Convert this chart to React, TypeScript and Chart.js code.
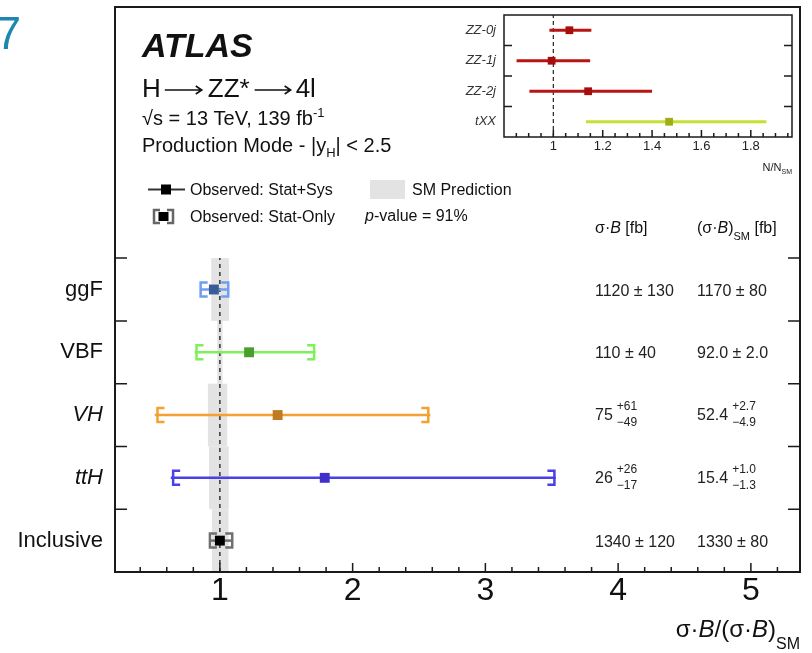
import React, { useEffect, useRef } from 'react';
import { Chart, registerables } from 'chart.js';
Chart.register(...registerables);

const FONT = '"Liberation Sans", Arimo, Arial, Helvetica, sans-serif';

// ---------------- main panel data ----------------
const categories = ['ggF', 'VBF', 'VH', 'ttH', 'Inclusive'];
const italicCategory = [false, false, true, true, false];
const observed = [0.955, 1.22, 1.435, 1.79, 1.0];
const totalLow = [0.85, 0.81, 0.51, 0.63, 0.925];
const totalHigh = [1.065, 1.72, 2.585, 3.53, 1.093];
const statLow = [0.855, 0.824, 0.53, 0.648, 0.925];
const statHigh = [1.063, 1.71, 2.57, 3.52, 1.093];
const smLow = [0.935, 0.98, 0.91, 0.918, 0.94];
const smHigh = [1.068, 1.02, 1.055, 1.067, 1.065];
const markerColors = ['#3b5b98', '#4a9e2e', '#c07a22', '#3f30cc', '#000000'];
const errorColors = ['#6f9ff0', '#7ef05a', '#f2a132', '#4b3fe6', '#707070'];
const xsCentral = ['1120 ± 130', '110 ± 40', '75', '26', '1340 ± 120'];
const xsUp = ['', '', '+61', '+26', ''];
const xsDown = ['', '', '−49', '−17', ''];
const smCentral = ['1170 ± 80', '92.0 ± 2.0', '52.4', '15.4', '1330 ± 80'];
const smUp = ['', '', '+2.7', '+1.0', ''];
const smDown = ['', '', '−4.9', '−1.3', ''];
const xTickValues = [1, 2, 3, 4, 5];

// ---------------- inset data ----------------
const insetCategories = ['ZZ-0j', 'ZZ-1j', 'ZZ-2j', 'tXX'];
const insetValues = [1.065, 0.993, 1.141, 1.469];
const insetLow = [0.984, 0.851, 0.903, 1.132];
const insetHigh = [1.154, 1.149, 1.4, 1.863];
const insetLineColors = ['#b81414', '#b81414', '#b81414', '#c4e034'];
const insetMarkerColors = ['#a60e0e', '#a60e0e', '#a60e0e', '#9fae16'];
const insetTickValues = [1, 1.2, 1.4, 1.6, 1.8];

type Part = { t: string; size: number; dy?: number; dx?: number; italic?: boolean; bold?: boolean; arrow?: number };

function fontOf(p: Part) {
  return `${p.italic ? 'italic ' : ''}${p.bold ? 'bold ' : ''}${p.size}px ${FONT}`;
}
function partWidth(ctx: CanvasRenderingContext2D, p: Part) {
  if (p.arrow) return p.arrow;
  ctx.font = fontOf(p);
  return ctx.measureText(p.t).width;
}
function richWidth(ctx: CanvasRenderingContext2D, parts: Part[]) {
  let w = 0;
  for (const p of parts) w += partWidth(ctx, p) + (p.dx || 0);
  return w;
}
function drawRich(ctx: CanvasRenderingContext2D, x: number, y: number, parts: Part[], align = 'left', color = '#111') {
  ctx.save();
  ctx.fillStyle = color;
  ctx.strokeStyle = color;
  ctx.textAlign = 'left';
  ctx.textBaseline = 'alphabetic';
  let cx = align === 'right' ? x - richWidth(ctx, parts) : x;
  for (const p of parts) {
    cx += p.dx || 0;
    if (p.arrow) {
      const ay = y - p.size * 0.27;
      ctx.lineWidth = 1.6;
      ctx.beginPath();
      ctx.moveTo(cx, ay);
      ctx.lineTo(cx + p.arrow, ay);
      ctx.moveTo(cx + p.arrow - 6, ay - 4);
      ctx.lineTo(cx + p.arrow, ay);
      ctx.lineTo(cx + p.arrow - 6, ay + 4);
      ctx.stroke();
    } else {
      ctx.font = fontOf(p);
      ctx.fillText(p.t, cx, y + (p.dy || 0));
    }
    cx += partWidth(ctx, p);
  }
  ctx.restore();
}

const rowValue = (i: number) => categories.length - 1 - i;
const insetRow = (i: number) => insetCategories.length - 1 - i;

function bracket(ctx: CanvasRenderingContext2D, px: number, py: number, h: number, c: number) {
  ctx.beginPath();
  ctx.moveTo(px + c, py - h / 2);
  ctx.lineTo(px, py - h / 2);
  ctx.lineTo(px, py + h / 2);
  ctx.lineTo(px + c, py + h / 2);
  ctx.stroke();
}

const mainPlugin = {
  id: 'atlasMain',
  beforeDatasetsDraw(chart: any) {
    const { ctx, chartArea: a } = chart;
    const x = chart.scales.x;
    const y = chart.scales.y;
    ctx.save();
    ctx.beginPath();
    ctx.rect(a.left, a.top, a.right - a.left, a.bottom - a.top);
    ctx.clip();
    ctx.fillStyle = '#e3e3e3';
    categories.forEach((_, i) => {
      const yv = rowValue(i);
      const x0 = x.getPixelForValue(smLow[i]);
      const x1 = x.getPixelForValue(smHigh[i]);
      const y0 = y.getPixelForValue(yv + 0.5);
      const y1 = y.getPixelForValue(yv - 0.5);
      ctx.fillRect(x0, y0, x1 - x0, y1 - y0);
    });
    const px1 = x.getPixelForValue(1);
    ctx.setLineDash([4, 4]);
    ctx.strokeStyle = '#333';
    ctx.lineWidth = 1.5;
    ctx.beginPath();
    ctx.moveTo(px1, y.getPixelForValue(-0.5));
    ctx.lineTo(px1, y.getPixelForValue(categories.length - 0.5));
    ctx.stroke();
    ctx.setLineDash([]);
    categories.forEach((_, i) => {
      const py = y.getPixelForValue(rowValue(i));
      ctx.strokeStyle = errorColors[i];
      ctx.lineWidth = 2.5;
      ctx.beginPath();
      ctx.moveTo(x.getPixelForValue(totalLow[i]), py);
      ctx.lineTo(x.getPixelForValue(totalHigh[i]), py);
      ctx.stroke();
      bracket(ctx, x.getPixelForValue(statLow[i]), py, 14, 7);
      bracket(ctx, x.getPixelForValue(statHigh[i]), py, 14, -7);
    });
    ctx.restore();
  },
  afterDraw(chart: any) {
    const { ctx, chartArea: a } = chart;
    const x = chart.scales.x;
    const y = chart.scales.y;
    ctx.save();
    // frame
    ctx.strokeStyle = '#1a1a1a';
    ctx.lineWidth = 2;
    ctx.strokeRect(a.left, a.top, a.right - a.left, a.bottom - a.top);
    // x ticks
    ctx.lineWidth = 1.5;
    ctx.beginPath();
    for (let k = 2; k <= 26; k++) {
      const v = k * 0.2;
      if (v < x.min || v > x.max) continue;
      const px = x.getPixelForValue(v);
      const major = Math.abs(v - Math.round(v)) < 1e-6;
      ctx.moveTo(px, a.bottom);
      ctx.lineTo(px, a.bottom - (major ? 9 : 5));
    }
    // y ticks
    for (let i = 0; i < categories.length; i++) {
      const py = y.getPixelForValue(i + 0.5);
      ctx.moveTo(a.left, py);
      ctx.lineTo(a.left + 12, py);
      ctx.moveTo(a.right, py);
      ctx.lineTo(a.right - 12, py);
    }
    ctx.stroke();

    // figure number
    ctx.fillStyle = '#1f86b0';
    ctx.font = `46px ${FONT}`;
    ctx.textAlign = 'right';
    ctx.fillText('7', 21, 49);

    const L = a.left + 27;
    drawRich(ctx, L, 57, [{ t: 'ATLAS', size: 34, bold: true, italic: true }]);
    drawRich(ctx, L, 97, [
      { t: 'H', size: 26 },
      { t: '', size: 26, arrow: 37, dx: 4 },
      { t: 'ZZ*', size: 26, dx: 6 },
      { t: '', size: 26, arrow: 36, dx: 5 },
      { t: '4l', size: 26, dx: 5 },
    ]);
    drawRich(ctx, L, 125, [
      { t: '√s = 13 TeV, 139 fb', size: 20 },
      { t: '-1', size: 13, dy: -8 },
    ]);
    drawRich(ctx, L, 152, [
      { t: 'Production Mode - |y', size: 20 },
      { t: 'H', size: 13, dy: 5 },
      { t: '| < 2.5', size: 20 },
    ]);

    // legend
    ctx.strokeStyle = '#333';
    ctx.lineWidth = 2;
    ctx.beginPath();
    ctx.moveTo(148, 189.5);
    ctx.lineTo(185, 189.5);
    ctx.stroke();
    ctx.fillStyle = '#000';
    ctx.fillRect(161, 184.5, 10, 10);
    ctx.strokeStyle = '#666';
    ctx.lineWidth = 2.5;
    bracket(ctx, 154, 216.5, 13, 6);
    bracket(ctx, 173, 216.5, 13, -6);
    ctx.fillRect(158.5, 212, 10, 9);
    drawRich(ctx, 190, 195, [{ t: 'Observed: Stat+Sys', size: 16 }]);
    drawRich(ctx, 190, 222, [{ t: 'Observed: Stat-Only', size: 16 }]);
    ctx.fillStyle = '#e3e3e3';
    ctx.fillRect(370, 180, 35, 19);
    drawRich(ctx, 412, 195, [{ t: 'SM Prediction', size: 16 }]);
    drawRich(ctx, 365, 221, [
      { t: 'p', size: 16, italic: true },
      { t: '-value = 91%', size: 16 },
    ]);

    // table headers
    const c1 = a.right - 205;
    const c2 = a.right - 103;
    drawRich(ctx, c1, 233, [
      { t: 'σ·', size: 16 },
      { t: 'B', size: 16, italic: true },
      { t: ' [fb]', size: 16 },
    ]);
    drawRich(ctx, c2, 233, [
      { t: '(σ·', size: 16 },
      { t: 'B', size: 16, italic: true },
      { t: ')', size: 16 },
      { t: 'SM', size: 11, dy: 7 },
      { t: ' [fb]', size: 16 },
    ]);
    categories.forEach((_, i) => {
      const py = y.getPixelForValue(rowValue(i));
      const cols = [
        [c1, xsCentral[i], xsUp[i], xsDown[i]],
        [c2, smCentral[i], smUp[i], smDown[i]],
      ] as [number, string, string, string][];
      for (const [cx, cen, up, dn] of cols) {
        if (!up) {
          drawRich(ctx, cx, py + 6, [{ t: cen, size: 16 }], 'left', '#222');
        } else {
          drawRich(ctx, cx, py + 5, [{ t: cen, size: 16 }], 'left', '#222');
          ctx.font = `16px ${FONT}`;
          const w = ctx.measureText(cen).width + 4;
          drawRich(ctx, cx + w, py - 5, [{ t: up, size: 12 }], 'left', '#222');
          drawRich(ctx, cx + w, py + 11, [{ t: dn, size: 12 }], 'left', '#222');
        }
      }
    });

    // x title
    drawRich(ctx, a.right, 637, [
      { t: 'σ·', size: 24 },
      { t: 'B', size: 24, italic: true },
      { t: '/(σ·', size: 24 },
      { t: 'B', size: 24, italic: true },
      { t: ')', size: 24 },
      { t: 'SM', size: 16, dy: 12 },
    ], 'right', '#111');
    ctx.restore();
  },
};

const insetPlugin = {
  id: 'atlasInset',
  beforeDatasetsDraw(chart: any) {
    const { ctx } = chart;
    const x = chart.scales.x;
    const y = chart.scales.y;
    ctx.save();
    const px1 = x.getPixelForValue(1);
    ctx.setLineDash([4, 3]);
    ctx.strokeStyle = '#333';
    ctx.lineWidth = 1.3;
    ctx.beginPath();
    ctx.moveTo(px1, y.getPixelForValue(-0.5));
    ctx.lineTo(px1, y.getPixelForValue(insetCategories.length - 0.5));
    ctx.stroke();
    ctx.setLineDash([]);
    insetCategories.forEach((_, i) => {
      const py = y.getPixelForValue(insetRow(i));
      ctx.strokeStyle = insetLineColors[i];
      ctx.lineWidth = 3;
      ctx.beginPath();
      ctx.moveTo(x.getPixelForValue(insetLow[i]), py);
      ctx.lineTo(x.getPixelForValue(insetHigh[i]), py);
      ctx.stroke();
    });
    ctx.restore();
  },
  afterDraw(chart: any) {
    const { ctx, chartArea: a } = chart;
    const x = chart.scales.x;
    const y = chart.scales.y;
    ctx.save();
    ctx.strokeStyle = '#1a1a1a';
    ctx.lineWidth = 1.5;
    ctx.strokeRect(a.left, a.top, a.right - a.left, a.bottom - a.top);
    ctx.beginPath();
    for (let k = 17; k <= 39; k++) {
      const v = k * 0.05;
      if (v < x.min || v > x.max) continue;
      const px = x.getPixelForValue(v);
      const major = k % 4 === 0;
      ctx.moveTo(px, a.bottom);
      ctx.lineTo(px, a.bottom - (major ? 7 : 4));
    }
    for (let i = 0; i < insetCategories.length - 1; i++) {
      const py = y.getPixelForValue(i + 0.5);
      ctx.moveTo(a.left, py);
      ctx.lineTo(a.left + 8, py);
      ctx.moveTo(a.right, py);
      ctx.lineTo(a.right - 8, py);
    }
    ctx.stroke();
    drawRich(ctx, a.right, 171, [
      { t: 'N/N', size: 11 },
      { t: 'SM', size: 7, dy: 3 },
    ], 'right', '#222');
    ctx.restore();
  },
};

const zeroPad = (s: any) => {
  s.paddingTop = 0;
  s.paddingBottom = 0;
  s.paddingLeft = 0;
  s.paddingRight = 0;
};

export default function App() {
  const mainRef = useRef<HTMLCanvasElement>(null);
  const insetRef = useRef<HTMLCanvasElement>(null);

  useEffect(() => {
    const main = new Chart(mainRef.current as HTMLCanvasElement, {
      type: 'scatter',
      data: {
        datasets: [
          {
            data: observed.map((v, i) => ({ x: v, y: rowValue(i) })),
            backgroundColor: markerColors,
            borderWidth: 0,
            pointStyle: 'rect',
            pointRadius: 7,
          },
        ],
      },
      options: {
        responsive: false,
        animation: false,
        devicePixelRatio: 1,
        layout: { padding: { top: 7, right: 12, left: 0, bottom: 0 } },
        plugins: { legend: { display: false }, tooltip: { enabled: false } },
        scales: {
          x: {
            type: 'linear',
            min: 0.21,
            max: 5.37,
            afterBuildTicks: (s: any) => {
              s.ticks = xTickValues.map((v) => ({ value: v }));
            },
            afterFit: (s: any) => {
              s.height = 81;
              zeroPad(s);
            },
            grid: { display: false, drawTicks: false },
            border: { display: false },
            ticks: {
              padding: 0,
              color: '#111',
              font: { family: FONT, size: 32 },
              callback: (v: any) => String(v),
            },
          },
          y: {
            type: 'linear',
            min: -0.5,
            max: 8.5,
            afterBuildTicks: (s: any) => {
              s.ticks = categories.map((_, i) => ({ value: rowValue(i) }));
            },
            afterFit: (s: any) => {
              s.width = 115;
              zeroPad(s);
            },
            grid: { display: false, drawTicks: false },
            border: { display: false },
            ticks: {
              padding: 12,
              color: '#111',
              autoSkip: false,
              font: (c: any) => {
                const idx = categories.length - 1 - Math.round(c.tick ? c.tick.value : 0);
                return { family: FONT, size: 22, style: italicCategory[idx] ? 'italic' : 'normal' };
              },
              callback: (v: any) => categories[categories.length - 1 - Math.round(v)] ?? '',
            },
          },
        },
      },
      plugins: [mainPlugin],
    } as any);

    const inset = new Chart(insetRef.current as HTMLCanvasElement, {
      type: 'scatter',
      data: {
        datasets: [
          {
            data: insetValues.map((v, i) => ({ x: v, y: insetRow(i) })),
            backgroundColor: insetMarkerColors,
            borderWidth: 0,
            pointStyle: 'rect',
            pointRadius: 5.5,
          },
        ],
      },
      options: {
        responsive: false,
        animation: false,
        devicePixelRatio: 1,
        layout: { padding: { top: 15, right: 20, left: 0, bottom: 0 } },
        plugins: { legend: { display: false }, tooltip: { enabled: false } },
        scales: {
          x: {
            type: 'linear',
            min: 0.8,
            max: 1.967,
            afterBuildTicks: (s: any) => {
              s.ticks = insetTickValues.map((v) => ({ value: v }));
            },
            afterFit: (s: any) => {
              s.height = 38;
              zeroPad(s);
            },
            grid: { display: false, drawTicks: false },
            border: { display: false },
            ticks: {
              padding: 2,
              color: '#222',
              font: { family: FONT, size: 13 },
              callback: (v: any) => String(Math.round(v * 10) / 10),
            },
          },
          y: {
            type: 'linear',
            min: -0.5,
            max: 3.5,
            afterBuildTicks: (s: any) => {
              s.ticks = insetCategories.map((_, i) => ({ value: insetRow(i) }));
            },
            afterFit: (s: any) => {
              s.width = 84;
              zeroPad(s);
            },
            grid: { display: false, drawTicks: false },
            border: { display: false },
            ticks: {
              padding: 8,
              color: '#333',
              autoSkip: false,
              font: { family: FONT, size: 13, style: 'italic' },
              callback: (v: any) => insetCategories[insetCategories.length - 1 - Math.round(v)] ?? '',
            },
          },
        },
      },
      plugins: [insetPlugin],
    } as any);

    return () => {
      main.destroy();
      inset.destroy();
    };
  }, []);

  return (
    <div style={{ position: 'absolute', left: 0, top: 0, width: 812, height: 653, background: '#fff' }}>
      <canvas ref={mainRef} width={812} height={653} style={{ position: 'absolute', left: 0, top: 0 }} />
      <canvas ref={insetRef} width={392} height={175} style={{ position: 'absolute', left: 420, top: 0 }} />
    </div>
  );
}
